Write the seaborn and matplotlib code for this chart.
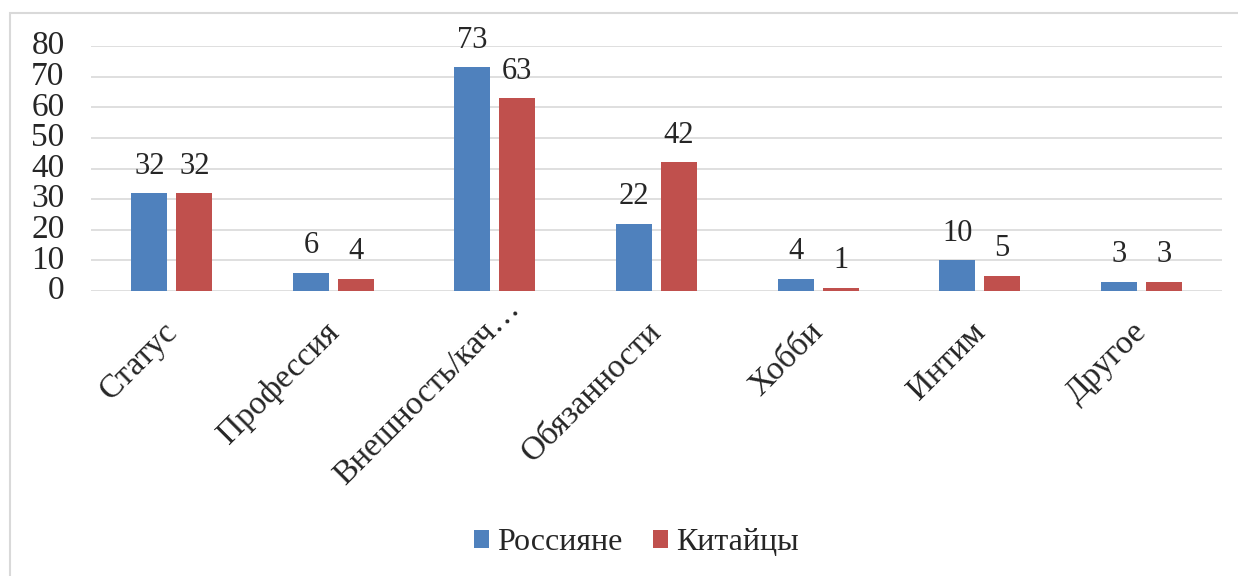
import matplotlib
matplotlib.use("Agg")
import matplotlib.pyplot as plt
import matplotlib.transforms as mtransforms
import seaborn as sns
import pandas as pd
from matplotlib.patches import Rectangle, Patch

categories = ["Статус", "Профессия", "Внешность/кач…", "Обязанности", "Хобби", "Интим", "Другое"]
russians = [32, 6, 73, 22, 4, 10, 3]
chinese = [32, 4, 63, 42, 1, 5, 3]
series_names = ["Россияне", "Китайцы"]
colors = ["#4F81BD", "#C0504D"]

df = pd.DataFrame({
    "cat": categories * 2,
    "val": russians + chinese,
    "series": [series_names[0]] * len(categories) + [series_names[1]] * len(categories),
})

sns.set_style("white")
plt.rcParams["font.family"] = ["Liberation Serif", "DejaVu Serif"]

fig = plt.figure(figsize=(12.38, 5.76), dpi=100)
ax = fig.add_axes([91 / 1238, 1 - 291 / 576, (1222 - 91) / 1238, (291 - 46) / 576])

sns.barplot(data=df, x="cat", y="val", hue="series", palette=colors, width=0.557, gap=0.2,
            ax=ax, saturation=1, legend=False, edgecolor="none")

for c in ax.containers:
    ax.bar_label(c, fmt="%g", padding=9, fontsize=22)

ax.set_ylim(0, 80)
ax.set_yticks(range(0, 81, 10))
ax.yaxis.grid(True, color="#D9D9D9", linewidth=1.2)
ax.set_axisbelow(True)
for s in ax.spines.values():
    s.set_visible(False)
ax.set_xlabel("")
ax.set_ylabel("")
ax.tick_params(axis="y", length=0, pad=19, labelsize=24)
ax.tick_params(axis="x", length=0, pad=2, labelsize=24)
for lbl in ax.get_yticklabels():
    lbl.set_verticalalignment("center")
for lbl in ax.get_xticklabels():
    if len(lbl.get_text()) > 12:
        dx, dy = 9, 0
    else:
        dx, dy = -10, -23
    off = mtransforms.ScaledTranslation(dx / 100, dy / 100, fig.dpi_scale_trans)
    lbl.set_rotation(45)
    lbl.set_ha("right")
    lbl.set_rotation_mode("anchor")
    lbl.set_transform(lbl.get_transform() + off)

handles = [Patch(facecolor=colors[i], edgecolor="none") for i in range(2)]
fig.legend(handles, series_names, loc="center", bbox_to_anchor=(0.514, 1 - 543 / 576), ncol=2,
           frameon=False, fontsize=23, handlelength=0.48, handleheight=0.48, handletextpad=0.25,
           columnspacing=0.95)

fig.patches.append(Rectangle((10 / 1238, -0.05), 1.1, 1 - 13 / 576 + 0.05, transform=fig.transFigure,
                             fill=False, edgecolor="#D9D9D9", linewidth=1.5))

fig.savefig("out.png", dpi=100)
